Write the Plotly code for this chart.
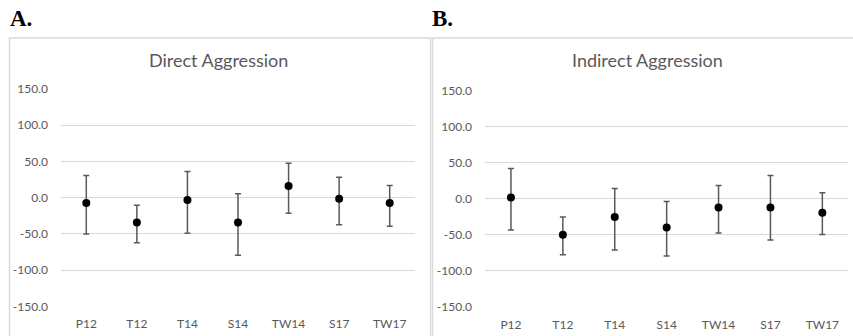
import plotly.graph_objects as go

categories = ["P12", "T12", "T14", "S14", "TW14", "S17", "TW17"]

direct_mean = [-7.3, -34.2, -3.2, -34.2, 16.0, -1.4, -7.3]
direct_upper = [30.6, -10.5, 36.1, 5.5, 47.5, 28.3, 16.9]
direct_lower = [-50.2, -62.1, -48.9, -79.5, -21.5, -37.4, -39.3]

indirect_mean = [1.8, -49.8, -25.3, -39.6, -12.0, -12.0, -19.4]
indirect_upper = [41.9, -25.3, 14.3, -3.7, 18.4, 32.3, 8.3]
indirect_lower = [-43.3, -77.4, -71.0, -79.3, -47.5, -57.1, -49.3]

y_ticks = [-150, -100, -50, 0, 50, 100, 150]
y_tick_labels = ["-150.0", "-100.0", "-50.0", "0.0", "50.0", "100.0", "150.0"]
panel_titles = ["Direct Aggression", "Indirect Aggression"]
panel_letters = ["A.", "B."]

W, H = 853, 336
FONT = "Lato"
GRID = "#d9d9d9"
TXT = "#595959"

fig = go.Figure()

def add_series(mean, upper, lower, xa, ya):
    plus = [u - m for u, m in zip(upper, mean)]
    minus = [m - l for m, l in zip(mean, lower)]
    fig.add_trace(go.Scatter(
        x=categories, y=mean, mode="markers", xaxis=xa, yaxis=ya,
        marker=dict(color="black", size=8),
        error_y=dict(type="data", symmetric=False, array=plus, arrayminus=minus,
                     color="#595959", thickness=1.5, width=3),
        showlegend=False, hoverinfo="x+y"))

add_series(direct_mean, direct_upper, direct_lower, "x", "y")
add_series(indirect_mean, indirect_upper, indirect_lower, "x2", "y2")

def px_x(p):
    return p / W

def px_y(p):
    return 1 - p / H

xcommon = dict(type="category", categoryorder="array", categoryarray=categories,
               range=[-0.5, 6.5], showgrid=False, zeroline=False, showline=False,
               automargin=False,
               ticks="outside", ticklen=6, tickcolor="rgba(0,0,0,0)",
               tickfont=dict(family=FONT, size=12, color=TXT), fixedrange=True)
ycommon = dict(range=[-150.3, 150.3], tickmode="array", tickvals=y_ticks, ticktext=y_tick_labels,
               showgrid=True, gridcolor=GRID, gridwidth=1, zeroline=True, zerolinecolor=GRID,
               zerolinewidth=1, showline=False, ticks="", ticklabelstandoff=12,
               automargin=False,
               tickfont=dict(family=FONT, size=12, color=TXT),
               fixedrange=True)

fig.update_layout(
    template="none",
    width=W, height=H, margin=dict(l=0, r=0, t=0, b=0, autoexpand=False),
    paper_bgcolor="white", plot_bgcolor="white",
    xaxis=dict(domain=[px_x(61), px_x(415)], anchor="y", **xcommon),
    yaxis=dict(domain=[px_y(306.7), px_y(88.7)], anchor="x", **ycommon),
    xaxis2=dict(domain=[px_x(485), px_x(848.3)], anchor="y2", **xcommon),
    yaxis2=dict(domain=[px_y(307.3), px_y(90.3)], anchor="x2", **ycommon),
)

# panel borders
fig.add_shape(type="rect", xref="paper", yref="paper",
              x0=px_x(9.5), x1=px_x(430.5), y0=-0.1, y1=px_y(38),
              line=dict(color=GRID, width=1.5), layer="below")
fig.add_shape(type="rect", xref="paper", yref="paper",
              x0=px_x(432.5), x1=1.1, y0=-0.1, y1=px_y(38),
              line=dict(color=GRID, width=1.5), layer="below")

# titles
for t, cx in zip(panel_titles, [218.5, 647]):
    fig.add_annotation(text=t, xref="paper", yref="paper", x=px_x(cx), y=px_y(60),
                       xanchor="center", yanchor="middle", showarrow=False,
                       font=dict(family=FONT, size=18, color=TXT))
# letters
for t, lx in zip(panel_letters, [8, 430]):
    fig.add_annotation(text="<b>" + t + "</b>", xref="paper", yref="paper", x=px_x(lx), y=px_y(18),
                       xanchor="left", yanchor="middle", showarrow=False,
                       font=dict(family="Liberation Serif", size=23, color="black"))

fig.write_html("out.html", config={"displayModeBar": False, "staticPlot": True},
               post_script="document.body.style.margin='0';document.body.style.padding='0';document.body.style.overflow='hidden';")
